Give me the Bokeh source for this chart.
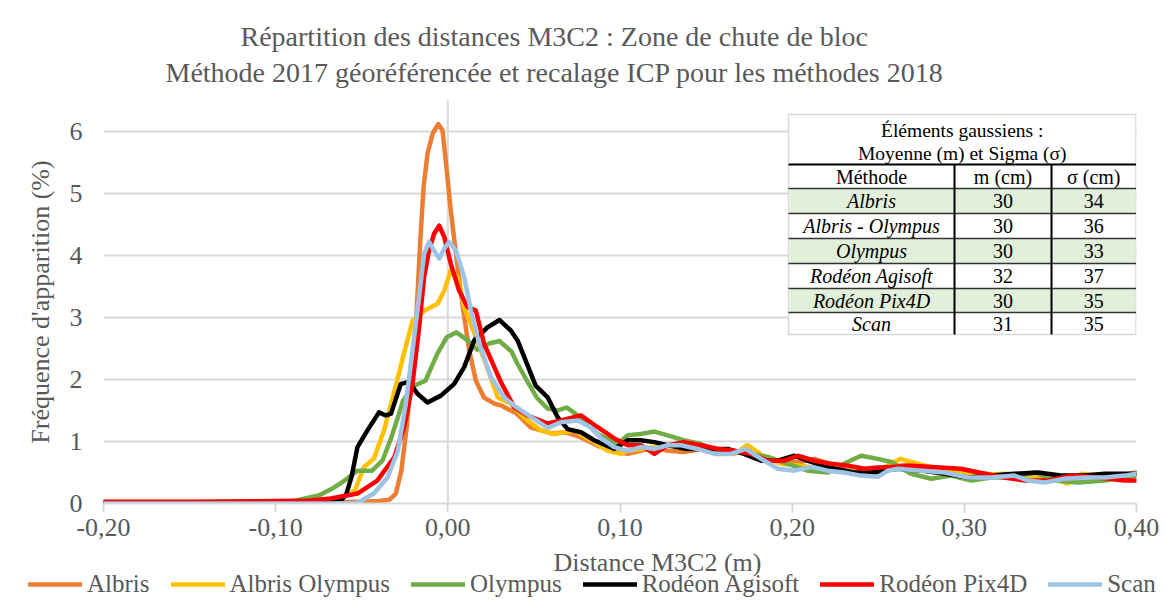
from bokeh.plotting import figure
from bokeh.layouts import column
from bokeh.models import Range1d, FixedTicker, Span, Title, Legend, LegendItem
from bokeh.core.properties import value
from bokeh.embed import file_html
from bokeh.resources import INLINE

# ---------------- data ----------------
series_names = ["Albris", "Albris Olympus", "Olympus", "Rodéon Agisoft", "Rodéon Pix4D", "Scan"]
series_colors = ["#ED7D31", "#FFC000", "#70AD47", "#000000", "#FF0000", "#9DC3E6"]

albris_x = [-0.20, -0.15, -0.10, -0.07, -0.05, -0.04, -0.034, -0.0302, -0.027, -0.0239, -0.0212,
            -0.0181, -0.0161, -0.0141, -0.0118, -0.0089, -0.0056, -0.0031, -0.0012, 0.0017, 0.0052,
            0.009, 0.0124, 0.0163, 0.021, 0.027, 0.031, 0.040, 0.048, 0.060, 0.068, 0.077, 0.088,
            0.096, 0.1045, 0.112, 0.120, 0.1277, 0.137, 0.147, 0.157, 0.1665, 0.174, 0.184, 0.1936,
            0.205, 0.213, 0.2246, 0.236, 0.246, 0.2576, 0.271, 0.285, 0.298, 0.312, 0.327, 0.343,
            0.358, 0.374, 0.389, 0.400]
albris_y = [0.02, 0.02, 0.02, 0.02, 0.03, 0.04, 0.06, 0.16, 0.53, 1.23, 2.04,
            3.11, 4.19, 5.10, 5.64, 5.96, 6.12, 6.02, 5.53, 4.73, 3.92,
            3.11, 2.47, 1.98, 1.71, 1.61, 1.58, 1.45, 1.23, 1.13, 1.15, 1.07, 0.92,
            0.84, 0.80, 0.85, 0.91, 0.85, 0.83, 0.88, 0.85, 0.83, 0.85, 0.72, 0.67,
            0.67, 0.72, 0.61, 0.50, 0.47, 0.59, 0.64, 0.56, 0.50, 0.48, 0.45, 0.45,
            0.42, 0.45, 0.45, 0.50]

albris_olympus_x = [-0.20, -0.15, -0.10, -0.08, -0.07, -0.062, -0.054, -0.0487, -0.043, -0.037,
                    -0.032, -0.026, -0.0205, -0.0138, -0.006, -0.0021, 0.0017, 0.0056, 0.0095,
                    0.0153, 0.023, 0.029, 0.0366, 0.0444, 0.054, 0.062, 0.073, 0.083, 0.093,
                    0.1006, 0.1045, 0.112, 0.120, 0.1277, 0.137, 0.147, 0.157, 0.1665, 0.174,
                    0.184, 0.1936, 0.205, 0.217, 0.2285, 0.240, 0.2498, 0.263, 0.277, 0.2905,
                    0.304, 0.323, 0.337, 0.350, 0.360, 0.368, 0.3816, 0.400]
albris_olympus_y = [0.01, 0.01, 0.02, 0.03, 0.05, 0.08, 0.21, 0.59, 0.72, 1.18,
                    1.71, 2.36, 2.95, 3.11, 3.22, 3.43, 3.76, 3.65, 3.17,
                    2.75, 2.18, 1.71, 1.61, 1.38, 1.18, 1.12, 1.18, 1.02, 0.85,
                    0.80, 0.85, 0.88, 0.91, 0.94, 0.94, 0.91, 0.83, 0.80, 0.94,
                    0.75, 0.64, 0.61, 0.56, 0.53, 0.56, 0.53, 0.72, 0.61, 0.53,
                    0.45, 0.48, 0.45, 0.42, 0.32, 0.48, 0.45, 0.48]

olympus_x = [-0.20, -0.15, -0.11, -0.091, -0.083, -0.075, -0.066, -0.060, -0.0525, -0.044,
             -0.038, -0.033, -0.029, -0.026, -0.0196, -0.013, -0.0062, -0.0007, 0.0049, 0.0116,
             0.017, 0.024, 0.030, 0.037, 0.0405, 0.046, 0.0516, 0.058, 0.064, 0.069, 0.077,
             0.087, 0.0987, 0.1045, 0.112, 0.120, 0.1277, 0.137, 0.147, 0.157, 0.1665, 0.176,
             0.186, 0.1975, 0.209, 0.2207, 0.230, 0.240, 0.2498, 0.2576, 0.269, 0.2808, 0.2924,
             0.304, 0.3157, 0.327, 0.341, 0.3525, 0.366, 0.3816, 0.400]
olympus_y = [0.01, 0.01, 0.02, 0.03, 0.08, 0.13, 0.26, 0.37, 0.53, 0.53,
             0.69, 1.05, 1.39, 1.66, 1.90, 1.98, 2.41, 2.68, 2.76, 2.63,
             2.48, 2.58, 2.62, 2.45, 2.25, 1.98, 1.71, 1.53, 1.50, 1.55, 1.39,
             1.12, 0.96, 1.10, 1.12, 1.16, 1.10, 1.02, 0.96, 0.85, 0.83, 0.80,
             0.75, 0.64, 0.53, 0.50, 0.64, 0.77, 0.72, 0.67, 0.48, 0.40, 0.45,
             0.37, 0.42, 0.42, 0.50, 0.37, 0.34, 0.37, 0.45]

agisoft_x = [-0.20, -0.15, -0.10, -0.07, -0.062, -0.059, -0.056, -0.0525, -0.0467, -0.040,
             -0.036, -0.033, -0.0273, -0.0225, -0.0176, -0.0118, -0.004, 0.0037, 0.0095, 0.0153,
             0.023, 0.030, 0.0366, 0.0405, 0.0444, 0.051, 0.058, 0.0638, 0.0696, 0.0773, 0.085,
             0.0967, 0.1045, 0.112, 0.120, 0.1277, 0.139, 0.151, 0.1626, 0.172, 0.182, 0.1917,
             0.2013, 0.211, 0.2246, 0.236, 0.246, 0.2614, 0.275, 0.2886, 0.302, 0.3157, 0.329,
             0.3428, 0.356, 0.370, 0.3816, 0.400]
agisoft_y = [0.01, 0.01, 0.01, 0.02, 0.05, 0.15, 0.42, 0.91, 1.18, 1.47,
             1.42, 1.45, 1.93, 1.96, 1.77, 1.63, 1.74, 1.93, 2.20, 2.63,
             2.84, 2.96, 2.79, 2.63, 2.36, 1.90, 1.71, 1.39, 1.20, 1.15, 1.02,
             0.88, 1.02, 1.02, 0.99, 0.94, 0.88, 0.88, 0.88, 0.80, 0.69, 0.69,
             0.77, 0.67, 0.56, 0.50, 0.50, 0.56, 0.53, 0.48, 0.42, 0.45, 0.48,
             0.50, 0.45, 0.45, 0.48, 0.48]

pix4d_x = [-0.20, -0.15, -0.10, -0.08, -0.068, -0.0525, -0.041, -0.031, -0.0254, -0.0205,
           -0.0167, -0.0138, -0.0109, -0.008, -0.005, -0.0021, 0.0017, 0.0066, 0.0114, 0.0163,
           0.021, 0.0308, 0.0386, 0.046, 0.058, 0.0657, 0.0773, 0.087, 0.0967, 0.1045, 0.112,
           0.120, 0.1277, 0.137, 0.147, 0.157, 0.1665, 0.176, 0.186, 0.1955, 0.2033, 0.213,
           0.2227, 0.2324, 0.242, 0.2498, 0.2576, 0.269, 0.281, 0.298, 0.312, 0.323, 0.335,
           0.3487, 0.362, 0.3777, 0.393, 0.400]
pix4d_y = [0.03, 0.03, 0.04, 0.05, 0.08, 0.16, 0.37, 0.75, 1.23, 1.93,
           2.84, 3.65, 4.08, 4.35, 4.48, 4.30, 3.87, 3.43, 3.17, 3.11,
           2.58, 1.96, 1.55, 1.42, 1.29, 1.34, 1.42, 1.23, 1.05, 0.94, 0.94,
           0.80, 0.94, 0.99, 0.94, 0.88, 0.85, 0.80, 0.69, 0.69, 0.77, 0.69,
           0.64, 0.61, 0.56, 0.58, 0.59, 0.61, 0.59, 0.56, 0.48, 0.42, 0.37,
           0.37, 0.45, 0.42, 0.37, 0.37]

scan_x = [-0.20, -0.15, -0.10, -0.07, -0.0525, -0.043, -0.035, -0.029, -0.0244, -0.0205,
          -0.0167, -0.0138, -0.0109, -0.008, -0.005, -0.0021, 0.0008, 0.0047, 0.0095, 0.0134,
          0.0182, 0.025, 0.0327, 0.040, 0.048, 0.058, 0.0657, 0.0754, 0.083, 0.089, 0.0967,
          0.1045, 0.112, 0.120, 0.1277, 0.1355, 0.145, 0.155, 0.1645, 0.173, 0.182, 0.1917,
          0.2013, 0.211, 0.2207, 0.230, 0.240, 0.2498, 0.2556, 0.2614, 0.275, 0.2886, 0.302,
          0.3157, 0.329, 0.337, 0.3467, 0.358, 0.370, 0.3816, 0.393, 0.400]
scan_y = [0.00, 0.00, 0.00, 0.00, 0.01, 0.16, 0.42, 0.85, 1.61, 2.47,
          3.33, 4.03, 4.22, 4.08, 3.95, 4.11, 4.22, 4.08, 3.65, 3.11,
          2.58, 2.04, 1.71, 1.55, 1.40, 1.22, 1.31, 1.34, 1.23, 1.05, 0.91,
          0.85, 0.91, 0.88, 0.94, 0.94, 0.88, 0.80, 0.80, 0.88, 0.72, 0.56,
          0.53, 0.59, 0.53, 0.50, 0.45, 0.43, 0.53, 0.56, 0.53, 0.50, 0.42,
          0.42, 0.45, 0.37, 0.34, 0.40, 0.42, 0.42, 0.45, 0.48]

all_x = [albris_x, albris_olympus_x, olympus_x, agisoft_x, pix4d_x, scan_x]
all_y = [albris_y, albris_olympus_y, olympus_y, agisoft_y, pix4d_y, scan_y]

x_ticks = [-0.20, -0.10, 0.0, 0.10, 0.20, 0.30, 0.40]
x_tick_labels = ["-0,20", "-0,10", "0,00", "0,10", "0,20", "0,30", "0,40"]
y_ticks = [0, 1, 2, 3, 4, 5, 6]

title_line1 = "Répartition des distances M3C2 : Zone de chute de bloc"
title_line2 = "Méthode 2017 géoréférencée et recalage ICP pour les méthodes 2018"
x_label = "Distance M3C2 (m)"
y_label = "Fréquence d'apparition (%)"

table_title1 = "Éléments gaussiens :"
table_title2 = "Moyenne (m) et Sigma (σ)"
table_headers = ["Méthode", "m (cm)", "σ (cm)"]
table_methods = ["Albris", "Albris - Olympus", "Olympus", "Rodéon Agisoft", "Rodéon Pix4D", "Scan"]
table_m = [30, 30, 30, 32, 30, 31]
table_sigma = [34, 36, 33, 37, 35, 35]
table_shaded = [True, False, True, False, True, False]

# ---------------- style / layout ----------------
FONT = "Liberation Serif"
TXT = "#595959"
GRID = "#D9D9D9"
W, H = 1160, 598
H1 = 547                               # height of the chart part
FL, FR, FT, FB = 103, 1136, 100, 503   # frame edges (px)
XMIN, XMAX, YMIN, YMAX = -0.2, 0.4, 0.0, 6.5

p = figure(width=W, height=H1, output_backend="svg", toolbar_location=None,
           x_range=Range1d(XMIN, XMAX), y_range=Range1d(YMIN, YMAX),
           min_border_left=FL, min_border_right=W - FR,
           min_border_top=FT, min_border_bottom=H1 - FB)
p.background_fill_color = "white"
p.border_fill_color = "white"
p.outline_line_color = None

# axes
xa = p.xaxis[0]
xa.ticker = FixedTicker(ticks=x_ticks)
xa.major_label_overrides = {t: l for t, l in zip(x_ticks, x_tick_labels)}
xa.major_label_text_font = FONT
xa.major_label_text_font_size = "26px"
xa.major_label_text_color = TXT
xa.axis_line_color = GRID
xa.axis_line_width = 2
xa.major_tick_line_color = GRID
xa.major_tick_line_width = 2
xa.major_tick_in = 0
xa.major_tick_out = 9
xa.minor_tick_line_color = None
xa.major_label_standoff = 6

ya = p.yaxis[0]
ya.ticker = FixedTicker(ticks=y_ticks)
ya.major_label_text_font = FONT
ya.major_label_text_font_size = "26px"
ya.major_label_text_color = TXT
ya.axis_line_color = None
ya.major_tick_line_color = None
ya.minor_tick_line_color = None
ya.major_tick_in = 0
ya.major_tick_out = 0
ya.major_label_standoff = 21
ya.axis_label = y_label
ya.axis_label_text_font = FONT
ya.axis_label_text_font_size = "26px"
ya.axis_label_text_font_style = "normal"
ya.axis_label_text_color = TXT
ya.axis_label_standoff = 12

p.xgrid.visible = False
p.ygrid.ticker = FixedTicker(ticks=y_ticks[1:])
p.ygrid.grid_line_color = GRID
p.ygrid.grid_line_width = 2
p.add_layout(Span(location=0, dimension="height", line_color=GRID, line_width=2, level="underlay"))

# titles
p.title.text = title_line1
p.title.align = "left"
p.title.offset = 137
p.title.text_font = FONT
p.title.text_font_size = "28px"
p.title.text_font_style = "normal"
p.title.text_color = TXT
p.title.standoff = -21
t2 = Title(text=title_line2, align="left", offset=62, text_font=FONT, text_font_size="28px",
           text_font_style="normal", text_color=TXT, standoff=26)
p.add_layout(t2, "above")

# series
for name, col, xs, ys in zip(series_names, series_colors, all_x, all_y):
    p.line(xs, ys, line_color=col, line_width=4.5, line_join="round", line_cap="round")

# ---------------- table (pixel layout converted to data space) ----------------
def dx(px):
    return XMIN + (px - FL) / (FR - FL) * (XMAX - XMIN)

def dy(py):
    return YMIN + (FB - py) / (FB - FT) * (YMAX - YMIN)

T_L, T_R = 788, 1135.5
C1, C2 = 954, 1051
T_TOP, T_HEAD = 114, 164
ROW_EDGES = [164, 188, 213, 238, 263, 288, 312, 334]

p.quad(left=[dx(T_L)], right=[dx(T_R)], top=[dy(T_TOP)], bottom=[dy(ROW_EDGES[-1])],
       fill_color="white", line_color="#D9D9D9", line_width=1.5)
for i, sh in enumerate(table_shaded):
    if sh:
        p.quad(left=[dx(T_L + 1)], right=[dx(T_R - 1)], top=[dy(ROW_EDGES[i + 1])],
               bottom=[dy(ROW_EDGES[i + 2])], fill_color="#E2EFDA", line_color=None)
hy = ROW_EDGES[1:-1]
p.segment(x0=[dx(T_L)] * len(hy), x1=[dx(T_R)] * len(hy), y0=[dy(v) for v in hy],
          y1=[dy(v) for v in hy], line_color="#333333", line_width=1.5)
p.segment(x0=[dx(T_L)], x1=[dx(T_R)], y0=[dy(T_HEAD)], y1=[dy(T_HEAD)],
          line_color="black", line_width=2)
p.segment(x0=[dx(C1), dx(C2)], x1=[dx(C1), dx(C2)], y0=[dy(T_HEAD)] * 2,
          y1=[dy(ROW_EDGES[-1])] * 2, line_color="black", line_width=2)

tcx = dx((T_L + T_R) / 2)
p.text(x=[tcx, tcx], y=[dy(130), dy(153)], text=[table_title1, table_title2],
       text_align="center", text_baseline="middle", text_font=value(FONT),
       text_font_size=value("19.5px"), text_color="black")
col_cx = [dx((T_L + C1) / 2), dx((C1 + C2) / 2), dx((C2 + T_R) / 2)]
p.text(x=col_cx, y=[dy(176)] * 3, text=table_headers, text_align="center",
       text_baseline="middle", text_font=value(FONT), text_font_size=value("20px"),
       text_color="black")
row_cy = [dy((ROW_EDGES[i + 1] + ROW_EDGES[i + 2]) / 2) for i in range(len(table_methods))]
p.text(x=[col_cx[0]] * len(table_methods), y=row_cy, text=table_methods, text_align="center",
       text_baseline="middle", text_font=value(FONT), text_font_size=value("20px"),
       text_font_style="italic", text_color="black")
p.text(x=[col_cx[1]] * len(table_m), y=row_cy, text=[str(v) for v in table_m],
       text_align="center", text_baseline="middle", text_font=value(FONT),
       text_font_size=value("20px"), text_color="black")
p.text(x=[col_cx[2]] * len(table_sigma), y=row_cy, text=[str(v) for v in table_sigma],
       text_align="center", text_baseline="middle", text_font=value(FONT),
       text_font_size=value("20px"), text_color="black")

# ---------------- bottom strip: x-axis title and legend ----------------
H2 = H - H1
q = figure(width=W, height=H2, output_backend="svg", toolbar_location=None,
           x_axis_location=None, y_axis_location=None,
           min_border_left=0, min_border_right=0, min_border_top=0, min_border_bottom=0)
unaligned = "frame_align" in q.properties()
if unaligned:
    q.frame_align = False
    q.x_range = Range1d(0, W)
    leg_font, leg_glyph, leg_space, leg_x = "25px", 54, 21, 28
else:
    q.x_range = Range1d(FL, FR)
    leg_font, leg_glyph, leg_space, leg_x = "24px", 44, 10, 8
q.y_range = Range1d(H, H1)
q.background_fill_color = "white"
q.border_fill_color = "white"
q.outline_line_color = None
q.xgrid.visible = False
q.ygrid.visible = False
q.text(x=[657], y=[562], text=[x_label], text_align="center", text_baseline="middle",
       text_font=value(FONT), text_font_size=value("26px"), text_color=TXT)

# legend entries: same series, same styles (the series fall outside this strip's ranges)
items = []
for name, col, xs, ys in zip(series_names, series_colors, all_x, all_y):
    r = q.line(xs, ys, line_color=col, line_width=4.5, line_cap="round")
    items.append(LegendItem(label=name, renderers=[r]))
legend = Legend(items=items, orientation="horizontal", location=(leg_x, 0),
                label_text_font=FONT, label_text_font_size=leg_font, label_text_color=TXT,
                glyph_width=leg_glyph, glyph_height=24, label_standoff=5, spacing=leg_space,
                padding=0, margin=0, border_line_color=None, background_fill_alpha=0)
q.add_layout(legend, "center")

layout = column(p, q, spacing=0)
open("out.html", "w").write(file_html(layout, INLINE))
